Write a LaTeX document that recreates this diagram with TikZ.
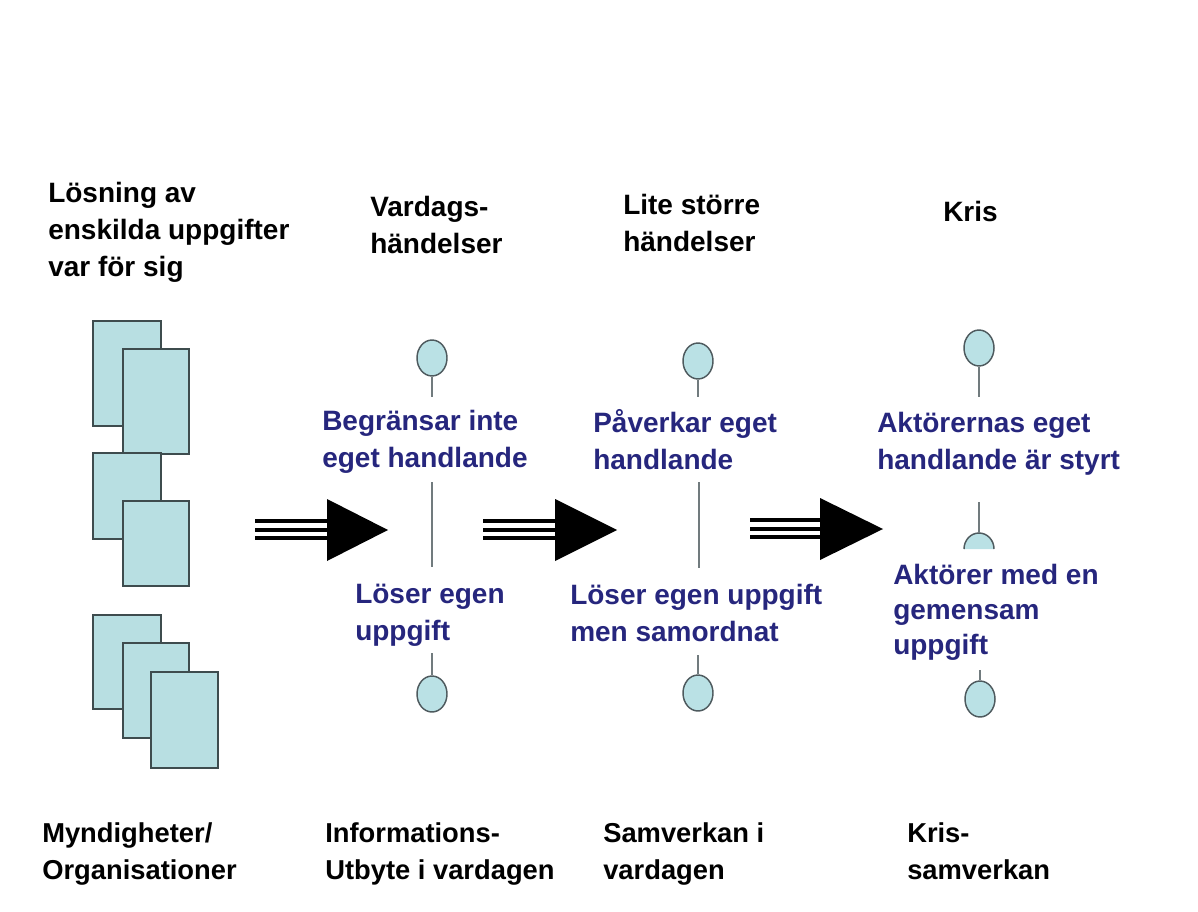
\documentclass[tikz,border=0pt]{standalone}
\usepackage{fontspec}
\setmainfont{Liberation Sans}
\usetikzlibrary{shapes.geometric,calc}

\definecolor{cardfill}{RGB}{184,223,226}
\definecolor{cardline}{RGB}{62,76,78}
\definecolor{podfill}{RGB}{186,225,229}
\definecolor{podline}{RGB}{78,90,94}
\definecolor{note}{RGB}{38,38,125}

% stacked lines whose baseline is the baseline of the first line
\newcommand{\stacktwo}[2]{\vtop{\baselineskip=27.75pt\hbox{#1}\hbox{#2}}}
\newcommand{\stackthree}[3]{\vtop{\baselineskip=26.25pt\hbox{#1}\hbox{#2}\hbox{#3}}}

\tikzset{
  card/.style={fill=cardfill, draw=cardline, line width=1.4pt},
  pod/.style={ellipse, fill=podfill, draw=podline, line width=1.1pt,
    minimum width=22.5pt, minimum height=27pt, inner sep=0pt},
  stem/.style={draw=podline!80, line width=0.9pt},
  label/.style={anchor=base west, inner sep=0pt, font=\bfseries\fontsize{21}{27.75}\selectfont},
  bluelabel/.style={label, text=note},
  footlabel/.style={label, font=\bfseries\fontsize{20.5}{27.75}\selectfont},
  bar/.style={line width=2.3pt, black},
  head/.style={fill=black},
}

\begin{document}
\begin{tikzpicture}[x=0.75pt, y=-0.75pt]
\useasboundingbox (0,0) rectangle (1198,912);

% ---- stacks of cards on the left
\draw[card] (93,321) rectangle (161,426);
\draw[card] (123,349) rectangle (189,454);
\draw[card] (93,453) rectangle (161,539);
\draw[card] (123,501) rectangle (189,586);
\draw[card] (93,615) rectangle (161,709);
\draw[card] (123,643) rectangle (189,738);
\draw[card] (151,672) rectangle (218,768);

% ---- headings
\node[label] (title) at (48,203) {\vtop{\baselineskip=27.75pt\hbox{Lösning av}\hbox{enskilda uppgifter}\hbox{var för sig}}};
\node[label] (h1) at (370,217) {\stacktwo{Vardags-}{händelser}};
\node[label] (h2) at (623,215) {\stacktwo{Lite större}{händelser}};
\node[label] (h3) at (943,222) {Kris};

% ---- column 1
\node[pod] (p1t) at (432,358) {};
\coordinate (s1t) at (432,397);
\draw[stem] (p1t.south) -- (s1t);
\node[bluelabel] (b1a) at (322,431) {\stacktwo{Begränsar inte}{eget handlande}};
\coordinate (m1a) at (432,482);
\coordinate (m1b) at (432,567);
\draw[stem] (m1a) -- (m1b);
\node[bluelabel] (b1b) at (355,603) {\stacktwo{Löser egen}{uppgift}};
\node[pod] (p1b) at (432,694) {};
\coordinate (s1b) at (432,653);
\draw[stem] (s1b) -- (p1b.north);

% ---- column 2
\node[pod] (p2t) at (698,361) {};
\coordinate (s2t) at (698,397);
\draw[stem] (p2t.south) -- (s2t);
\node[bluelabel] (b2a) at (593,432) {\stacktwo{Påverkar eget}{handlande}};
\coordinate (m2a) at (699,482);
\coordinate (m2b) at (699,568);
\draw[stem] (m2a) -- (m2b);
\node[bluelabel] (b2b) at (570,604) {\stacktwo{Löser egen uppgift}{men samordnat}};
\node[pod] (p2b) at (698,693) {};
\coordinate (s2b) at (698,655);
\draw[stem] (s2b) -- (p2b.north);

% ---- column 3
\node[pod] (p3t) at (979,348) {};
\coordinate (s3t) at (979,397);
\draw[stem] (p3t.south) -- (s3t);
\node[bluelabel] (b3a) at (877,432) {\stacktwo{Aktörernas eget}{handlande är styrt}};
\coordinate (m3a) at (979,502);
\coordinate (dome) at (979,549);
\fill[podfill] (964,549) arc[start angle=180, end angle=360, x radius=15, y radius=16] -- cycle;
\draw[podline, line width=1.1pt] (964,549) arc[start angle=180, end angle=360, x radius=15, y radius=16];
\draw[stem] (m3a) -- ($(dome)+(0,-16)$);
\node[bluelabel] (b3b) at (893,584) {\stackthree{Aktörer med en}{gemensam}{uppgift}};
\node[pod] (p3b) at (980,699) {};
\coordinate (s3b) at (980,670);
\draw[stem] (s3b) -- (p3b.north);

% ---- arrows between the stages
\foreach \xa/\xb/\yc in {255/330/530, 483/557/530, 750/822/529}{
  \draw[bar] (\xa,\yc-9) -- (\xb,\yc-9);
  \draw[bar] (\xa,\yc) -- (\xb,\yc);
  \draw[bar] (\xa,\yc+8) -- (\xb,\yc+8);
}
\fill[head] (327,499) -- (388,530) -- (327,561) -- cycle;
\fill[head] (555,499) -- (617,530) -- (555,561) -- cycle;
\fill[head] (820,498) -- (883,529) -- (820,560) -- cycle;

% ---- footers
\node[footlabel] (f0) at (42,842) {\stacktwo{Myndigheter/}{Organisationer}};
\node[footlabel] (f1) at (325,842) {\stacktwo{Informations-}{Utbyte i vardagen}};
\node[footlabel] (f2) at (603,842) {\stacktwo{Samverkan i}{vardagen}};
\node[footlabel] (f3) at (907,842) {\stacktwo{Kris-}{samverkan}};
\end{tikzpicture}
\end{document}
